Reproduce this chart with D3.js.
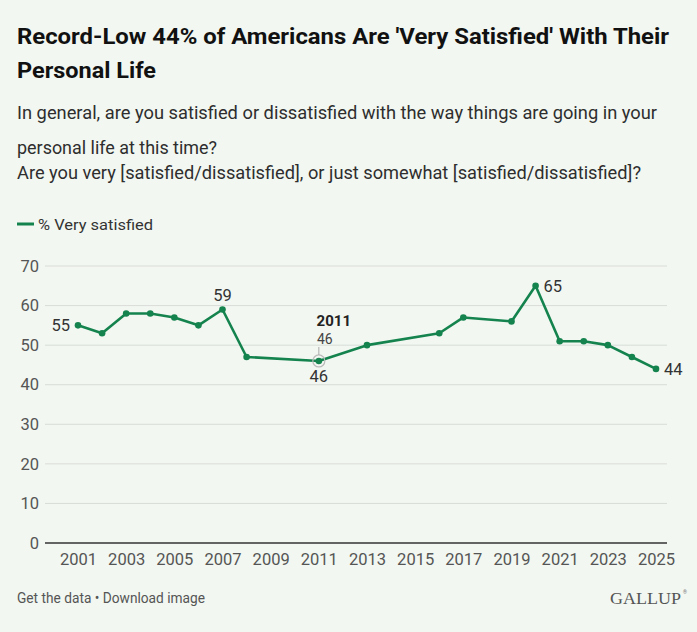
<!DOCTYPE html>
<html>
<head>
<meta charset="utf-8">
<script src="https://cdn.jsdelivr.net/npm/d3@7"></script>
<style>
  html, body { margin: 0; padding: 0; background: #f2f7f1; }
  svg { display: block; font-family: Roboto, "Noto Sans", sans-serif; }
</style>
</head>
<body>
<div id="chart"></div>
<script>
const years = [2001, 2002, 2003, 2004, 2005, 2006, 2007, 2008, 2011, 2013, 2016, 2017, 2019, 2020, 2021, 2022, 2023, 2024, 2025];
const verySatisfied = [55, 53, 58, 58, 57, 55, 59, 47, 46, 50, 53, 57, 56, 65, 51, 51, 50, 47, 44];
const xTicks = [2001, 2003, 2005, 2007, 2009, 2011, 2013, 2015, 2017, 2019, 2021, 2023, 2025];
const yTicks = [0, 10, 20, 30, 40, 50, 60, 70];
const labelled = [2001, 2007, 2020, 2025];
const hoverYear = 2011;

const W = 697, H = 632;
const green = '#15834e';
const data = years.map((y, i) => ({ year: y, value: verySatisfied[i] }));

const svg = d3.select('#chart')
  .append('svg')
  .attr('width', W)
  .attr('height', H);

// fit a text element to a given width (the original font is condensed)
function fit(sel, w) {
  sel.attr('textLength', w).attr('lengthAdjust', 'spacingAndGlyphs');
}

// title + subtitle
const title = svg.append('g').attr('fill', '#111').style('font-weight', 700).style('font-size', '22px');
title.append('text').attr('x', 17).attr('y', 44).text("Record-Low 44% of Americans Are 'Very Satisfied' With Their").call(fit, 652);
title.append('text').attr('x', 17).attr('y', 78).text('Personal Life').call(fit, 139);

const sub = svg.append('g').attr('fill', '#2e2e2e').style('font-size', '17.5px');
sub.append('text').attr('x', 17).attr('y', 119).text('In general, are you satisfied or dissatisfied with the way things are going in your').call(fit, 640);
sub.append('text').attr('x', 17).attr('y', 154).text('personal life at this time?').call(fit, 200);
sub.append('text').attr('x', 17).attr('y', 179).text('Are you very [satisfied/dissatisfied], or just somewhat [satisfied/dissatisfied]?').call(fit, 624);

// legend
svg.append('line')
  .attr('x1', 17).attr('x2', 34).attr('y1', 224).attr('y2', 224)
  .attr('stroke', green).attr('stroke-width', 3);
svg.append('text')
  .attr('x', 38).attr('y', 229.5)
  .attr('fill', '#333').style('font-size', '15.5px')
  .text('% Very satisfied').call(fit, 115);

// scales
const x = d3.scaleLinear().domain([2001, 2025]).range([78, 656]);
const y = d3.scaleLinear().domain([0, 70]).range([543, 266]);

// gridlines
svg.append('g')
  .selectAll('line')
  .data(yTicks.filter(d => d > 0))
  .enter()
  .append('line')
  .attr('x1', 45).attr('x2', 667)
  .attr('y1', d => y(d)).attr('y2', d => y(d))
  .attr('stroke', '#d9dcd8').attr('stroke-width', 1);

// y axis labels
const yAxis = svg.append('g')
  .attr('transform', 'translate(39,0)')
  .call(d3.axisLeft(y).tickValues(yTicks).tickSize(0).tickPadding(0));
yAxis.select('.domain').remove();
yAxis.selectAll('text')
  .attr('fill', '#555')
  .style('font-size', '16.5px')
  .style('font-family', 'Roboto, sans-serif');

// zero line
svg.append('line')
  .attr('x1', 45).attr('x2', 667)
  .attr('y1', y(0)).attr('y2', y(0))
  .attr('stroke', '#333').attr('stroke-width', 1.3);

// x axis labels
const xAxis = svg.append('g')
  .attr('transform', `translate(0,${y(0)})`)
  .call(d3.axisBottom(x).tickValues(xTicks).tickFormat(d3.format('d')).tickSize(0).tickPadding(10));
xAxis.select('.domain').remove();
xAxis.selectAll('text')
  .attr('fill', '#555')
  .style('font-size', '16.5px')
  .style('font-family', 'Roboto, sans-serif');

// line
const line = d3.line().x(d => x(d.year)).y(d => y(d.value));
svg.append('path')
  .datum(data)
  .attr('d', line)
  .attr('fill', 'none')
  .attr('stroke', green)
  .attr('stroke-width', 2.6)
  .attr('stroke-linejoin', 'round');

// hover ring at 2011
const hv = data.find(d => d.year === hoverYear);
svg.append('circle')
  .attr('cx', x(hv.year)).attr('cy', y(hv.value))
  .attr('r', 6)
  .attr('fill', 'none')
  .attr('stroke', '#bbb').attr('stroke-width', 1.2);

svg.append('g')
  .selectAll('circle')
  .data(data)
  .enter()
  .append('circle')
  .attr('cx', d => x(d.year))
  .attr('cy', d => y(d.value))
  .attr('r', 3.3)
  .attr('fill', green);

// tooltip-ish annotation
const ann = svg.append('g').attr('text-anchor', 'middle');
ann.append('text')
  .attr('x', x(hv.year) + 15).attr('y', y(hv.value) - 35)
  .attr('fill', '#222').style('font-weight', 700).style('font-size', '15px')
  .text(hv.year);
ann.append('text')
  .attr('x', x(hv.year) + 6).attr('y', y(hv.value) - 17)
  .attr('fill', '#444').style('font-size', '14px')
  .text(hv.value);
ann.append('line')
  .attr('x1', x(hv.year)).attr('x2', x(hv.year))
  .attr('y1', y(hv.value) - 14).attr('y2', y(hv.value) - 6)
  .attr('stroke', '#aaa').attr('stroke-width', 1);
ann.append('text')
  .attr('x', x(hv.year)).attr('y', y(hv.value) + 21)
  .attr('fill', '#333').style('font-size', '16.5px')
  .text(hv.value);

// point labels
const lab = data.filter(d => labelled.includes(d.year));
svg.append('g')
  .selectAll('text')
  .data(lab)
  .enter()
  .append('text')
  .attr('x', d => {
    if (d.year === 2001) return x(d.year) - 8;
    if (d.year === 2007) return x(d.year);
    return x(d.year) + 8;
  })
  .attr('y', d => d.year === 2007 ? y(d.value) - 9 : y(d.value) + 6)
  .attr('text-anchor', d => d.year === 2001 ? 'end' : d.year === 2007 ? 'middle' : 'start')
  .attr('fill', '#333')
  .style('font-size', '16.5px')
  .text(d => d.value);

// footer
svg.append('text')
  .attr('x', 17).attr('y', 603)
  .attr('fill', '#555').style('font-size', '14px')
  .text('Get the data \u2022 Download image').call(fit, 188);
svg.append('text')
  .attr('x', 681).attr('y', 604)
  .attr('text-anchor', 'end')
  .attr('fill', '#555')
  .style('font-family', '"Liberation Serif", "DejaVu Serif", serif')
  .style('font-size', '17px')
  .text('GALLUP').call(fit, 71);
svg.append('text')
  .attr('x', 683).attr('y', 594)
  .attr('fill', '#777').style('font-size', '5px')
  .text('\u00ae');
</script>
</body>
</html>
